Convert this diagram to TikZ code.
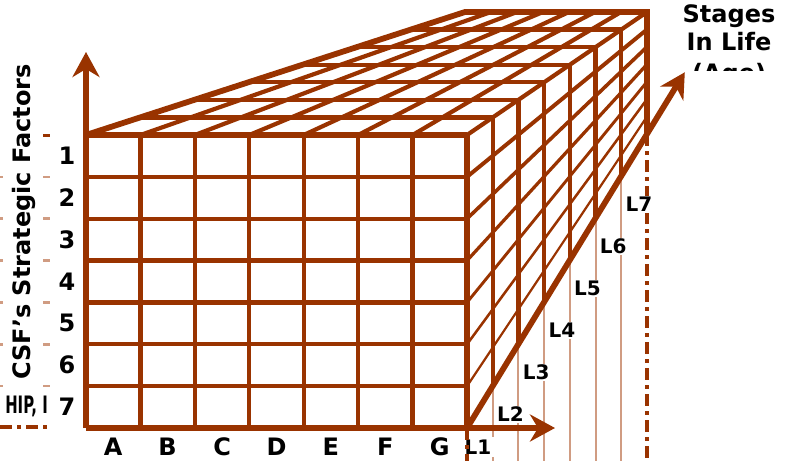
\documentclass[tikz,border=0pt]{standalone}
\usepackage{fontspec}
\setmainfont{DejaVu Sans}
\usetikzlibrary{arrows.meta,calc}
\definecolor{marron}{HTML}{993300}
\definecolor{beige}{HTML}{D09C82}

\begin{document}
\begin{tikzpicture}[x=1pt,y=-1pt,font=\fontsize{24}{29}\selectfont\bfseries,
        g/.style={marron,line width=4.2pt},
        d/.style={marron,line width=#1},
        b/.style={marron,line width=5.2pt},
        t/.style={beige,line width=2pt},
        dd/.style={marron,line width=3.5pt,dash pattern=on 12pt off 5pt on 4pt off 5pt},
        f/.style={marron,line width=5.2pt,-{Stealth[length=25pt,width=27pt,inset=8pt]}},
        lv/.style={fill=white,inner sep=1pt,font=\fontsize{20}{20}\selectfont\bfseries}]
  \useasboundingbox (0,0) rectangle (787,461);
  \coordinate (fa) at (86,135);  \coordinate (fb) at (467,135);
  \coordinate (fc) at (86,428);  \coordinate (fd) at (467,428);
  \coordinate (ba) at (465,12);  \coordinate (bb) at (647,12);
  \coordinate (bd) at (647,134); \coordinate (pie) at (0,461);
  \coordinate (ey) at (86,52);   \coordinate (ex) at (555,428);
  \coordinate (ez) at ($(fd)!1.21!(bd)$);
  \foreach \k in {0,...,7} {
    \coordinate (r\k) at ($(fb)!\k/7!(bb)$);
    \coordinate (s\k) at ($(fd)!\k/7!(bd)$);
  }
  \foreach \k in {1,...,6} \draw[t] (s\k) -- (s\k |- pie);
  \draw[dd] (s7) -- (s7 |- pie);
  \draw[dd] (0,427) -- (50,427);
  \draw[marron,line width=3pt] (43,135) -- (50,135);
  \foreach \j in {1,...,6} {
    \draw[t,line width=2.5pt] (43,{135+293*\j/7}) -- (50,{135+293*\j/7});
    \draw[t,line width=2.5pt] (0,{135+293*\j/7}) -- (2.5,{135+293*\j/7});
  }
  \foreach \i in {1,...,6} {
    \draw[g] ($(fa)!\i/7!(fb)$) -- ($(fc)!\i/7!(fd)$);
    \draw[g] ($(fa)!\i/7!(fc)$) -- ($(fb)!\i/7!(fd)$);
  }
  \foreach \i in {1,...,7} \draw[g] ($(fa)!\i/7!(fb)$) -- ($(ba)!\i/7!(bb)$);
  \foreach \k in {1,...,6} {
    \draw[g] ($(fa)!\k/7!(ba)$) -- (r\k);
    \draw[g] (r\k) -- (s\k);
    \draw[d={(4.3-0.35*\k)*1pt}] ($(fb)!\k/7!(fd)$) -- ($(bb)!\k/7!(bd)$);
  }
  \draw[b] (fc) -- (fd) -- (fb);
  \draw[b] (fa) -- (fb);
  \draw[b,line width=5.8pt] (fa) -- (ba) -- (bb) -- (bd);
  \draw[f] (fc) -- (ey);
  \draw[f] (fd) -- (ex);
  \draw[f,line width=5.8pt] (fd) -- (ez);
  \foreach \n [count=\i from 0] in {A,B,C,D,E,F,G}
    \node[anchor=base] (c\n) at ($(fc)!{(\i+0.5)/7}!(fd)+(0,27)$) {\n};
  \foreach \j in {1,...,7}
    \node[anchor=base] (n\j) at (67,{135+293*(\j-0.5)/7+8.5}) {\j};
  \node[lv,inner sep=2.5pt] (l1) at (478,447) {L1};
  \foreach \k [count=\p] in {2,...,7}
    \node[lv] (l\k) at ($(s\p)+(17.7,28.4)$) {L\k};
  \draw[dd] (s0) -- (s0 |- pie);
  \node[rotate=90] (ejey) at (24,222) {CSF's Strategic Factors};
  \begin{scope}
    \clip (0,390) rectangle (49,420);
    \node[anchor=base east,inner sep=0] (corte) at (48,413) {\scalebox{0.62}[1]{HIP, I}};
  \end{scope}
  \begin{scope}
    \clip (650,0) rectangle (787,70);
    \node[anchor=base] (et1) at (729,22) {Stages};
    \node[anchor=base] (et2) at (729,50) {In Life};
    \node[anchor=base] (et3) at (729,81) {(Age)};
  \end{scope}
\end{tikzpicture}
\end{document}
